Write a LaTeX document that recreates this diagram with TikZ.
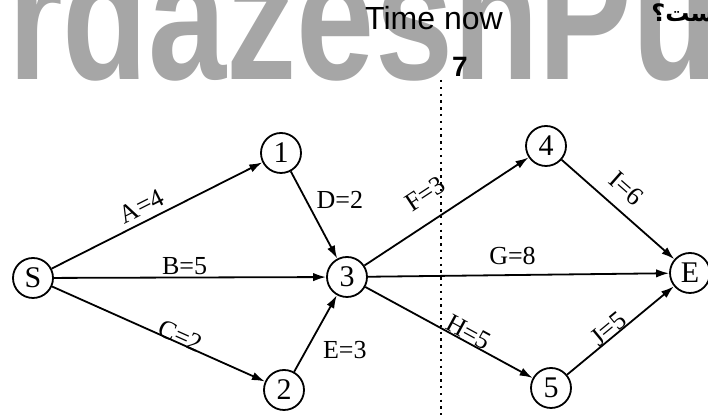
\documentclass[tikz,border=0pt]{standalone}
\usepackage{fontspec}
\setmainfont{Liberation Serif}
\newfontfamily\arialfont{Liberation Sans}
\newfontfamily\persfont[Script=Arabic]{DejaVu Sans}
\TeXXeTstate=1
\usetikzlibrary{arrows.meta}

\begin{document}
\begin{tikzpicture}[x=.5pt,y=-.5pt,
  ev/.style={draw,circle,line width=.9pt,minimum size=20pt,inner sep=0pt,
    font=\fontsize{15}{15}\selectfont},
  act/.style={line width=.9pt,-{Latex[length=6.5pt,width=4.2pt]}},
  lbl/.style={font=\fontsize{13}{13}\selectfont},
  nowline/.style={line width=1pt,dash pattern=on 1.2pt off 2.2pt}]
  \useasboundingbox (0,0) rectangle (708,415);
  \begin{scope}
    \clip (0,0) rectangle (708,415);
    \node[anchor=base west,inner sep=0pt,text=black!35,xscale=.78,
      font=\arialfont\bfseries\fontsize{90}{90}\selectfont] (mark) at (8,80) {rdazeshPu};
    \node[anchor=base west,inner sep=0pt,
      font=\persfont\bfseries\fontsize{12}{12}\selectfont] (qtext) at (651,22) {\beginR ست؟\endR};
  \end{scope}
  \node[anchor=base,inner sep=0pt,font=\arialfont\fontsize{16}{16}\selectfont] (now) at (434,30) {Time now};
  \node[font=\arialfont\bfseries\fontsize{14}{14}\selectfont] (nowval) at (460,67) {7};
  \coordinate (nowtop) at (441,80);
  \coordinate (nowbot) at (441,415);
  \draw[nowline] (nowtop) -- (nowbot);

  \node[ev] (S) at (33,278) {S};
  \node[ev] (n1) at (281,153) {1};
  \node[ev] (n2) at (284,390) {2};
  \node[ev] (n3) at (347,277) {3};
  \node[ev] (n4) at (546,146) {4};
  \node[ev] (n5) at (551,388) {5};
  \node[ev] (E) at (690,273) {E};

  \draw[act] (S) -- node[lbl,sloped,above=-.5pt,pos=.46] {A=4} (n1);
  \draw[act] (S) -- node[lbl,above=-2.5pt,pos=.48] {B=5} (n3);
  \draw[act] (S) -- node[lbl,sloped,above=-4.5pt,pos=.59] {C=2} (n2);
  \draw[act] (n1) -- node[lbl,right=1.5pt,pos=.33] {D=2} (n3);
  \draw[act] (n2) -- node[lbl,right=4.5pt,pos=.29] {E=3} (n3);
  \draw[act] (n3) -- node[lbl,sloped,above=5pt,pos=.46] {F=3} (n4);
  \draw[act] (n3) -- node[lbl,above=1.5pt,pos=.48] {G=8} (E);
  \draw[act] (n3) -- node[lbl,sloped,above=-3.5pt,pos=.59] {H=5} (n5);
  \draw[act] (n4) -- node[lbl,sloped,above=2.5pt,pos=.45] {I=6} (E);
  \draw[act] (n5) -- node[lbl,sloped,above=-3.5pt,pos=.44] {J=5} (E);
\end{tikzpicture}
\end{document}
